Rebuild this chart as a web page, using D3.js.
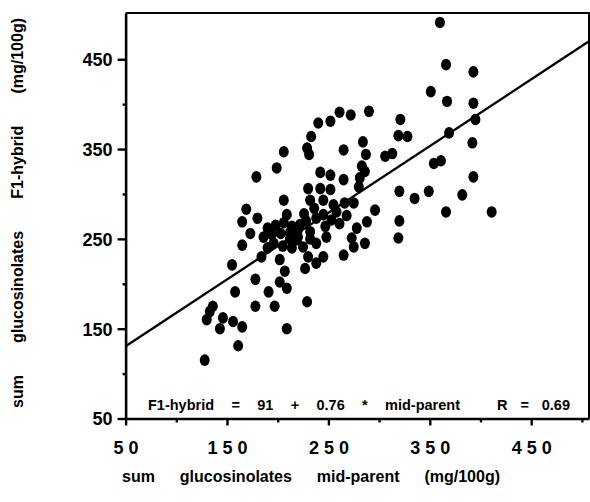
<!DOCTYPE html>
<html><head><meta charset="utf-8">
<script src="https://cdn.jsdelivr.net/npm/d3@7"></script>
<style>
body{margin:0;background:#fff}
svg{display:block}
text{font-family:"Liberation Sans",Arial,Helvetica,sans-serif;font-weight:bold;fill:#000}
</style>
</head><body>
<svg id="c" width="590" height="502"></svg>
<script>
// ---- data ----
const midParent = [360,366,393,351,367,393,321,395,319,328,369,392,306,313,354,361,393,320,335,349,382,366,411,320,319,
  290,272,261,252,240,233,229,231,265,284,287,283,286,242,252,265,281,280,230,242,252,232,245,266,275,255,296,245,238,253,288,261,247,278,220,212,232,248,273,219,238,275,286,225,265,245,230,238,
  206,199,179,206,169,165,180,209,173,165,155,184,202,207,227,178,202,209,158,191,136,178,197,229,130,146,156,165,143,133,209,161,128,
  190,198,206,214,222,186,194,203,212,220,196,205,214,190,228,232,226,236,258,268];
const f1Hybrid = [491,444,436,414,403,401,383,383,365,364,368,357,342,345,334,337,319,303,295,303,299,280,280,270,251,
  392,388,391,381,379,364,351,344,349,358,344,331,325,324,321,316,318,308,306,306,305,293,293,290,290,288,282,277,273,271,269,267,264,262,260,257,258,252,251,249,245,241,245,241,232,230,230,223,
  347,329,319,293,283,269,273,277,256,243,221,230,227,214,217,205,202,195,191,191,175,175,175,180,160,162,158,152,150,169,150,131,115,
  262,265,268,264,266,252,255,256,250,252,245,242,240,240,270,250,278,284,280,276];
const xTicksMajor = [50,150,250,350,450];
const xTicksMinor = [100,200,300,400,500];
const yTicksMajor = [50,150,250,350,450];
const yTicksMinor = [100,200,300,400];
const regLineX = [50,507];
const regLineY = [130.5,470];
const eqLabel = "F1-hybrid = 91 + 0.76 * mid-parent";
const rLabel = "R = 0.69";
const xTitle = "sum glucosinolates mid-parent (mg/100g)";
const yTitle = "sum glucosinolates F1-hybrid (mg/100g)";

// ---- chart ----
const svg = d3.select("#c");
svg.append("rect").attr("width",590).attr("height",502).attr("fill","#fff");
const x = d3.scaleLinear().domain([50,507]).range([125.6,589]);
const y = d3.scaleLinear().domain([50,501.5]).range([418.5,13]);

// frame (top & right)
svg.append("path")
  .attr("d", `M${x(50)},${y(501.5)}H${x(507)}V${y(50)}`)
  .attr("fill","none").attr("stroke","#000").attr("stroke-width",2);

const spaced = d => String(d).split("").join(" ");

// x axis
const gx = svg.append("g").attr("transform",`translate(0,${y(50)})`);
gx.call(d3.axisBottom(x).tickValues(xTicksMajor).tickSize(7).tickSizeOuter(0).tickFormat(spaced));
const gxm = svg.append("g").attr("transform",`translate(0,${y(50)})`);
gxm.call(d3.axisBottom(x).tickValues(xTicksMinor).tickSize(4).tickSizeOuter(0).tickFormat(""));
gxm.select(".domain").remove();
// y axis
const gy = svg.append("g").attr("transform",`translate(${x(50)},0)`);
gy.call(d3.axisLeft(y).tickValues(yTicksMajor).tickSize(8).tickSizeOuter(0));
const gym = svg.append("g").attr("transform",`translate(${x(50)},0)`);
gym.call(d3.axisLeft(y).tickValues(yTicksMinor).tickSize(3).tickSizeOuter(0).tickFormat(""));
gym.select(".domain").remove();

svg.selectAll(".domain").attr("stroke","#000").attr("stroke-width",2.6);
svg.selectAll(".tick line").attr("stroke","#000").attr("stroke-width",2.4);
gx.selectAll(".tick text").attr("y",null).attr("dy",null).attr("transform","translate(0,35)")
  .style("font-size","18px").style("font-family",'"Liberation Sans",Arial,sans-serif').style("font-weight","bold").attr("fill","#000");
gy.selectAll(".tick text").attr("x",-13).attr("dy","0.36em")
  .style("font-size","18px").style("font-family",'"Liberation Sans",Arial,sans-serif').style("font-weight","bold").attr("fill","#000");

// regression line
svg.append("line")
  .attr("x1",x(regLineX[0])).attr("y1",y(regLineY[0]))
  .attr("x2",x(regLineX[1])).attr("y2",y(regLineY[1]))
  .attr("stroke","#000").attr("stroke-width",2.3);

// points
svg.append("g").selectAll("ellipse").data(midParent.map((d,i)=>[d,f1Hybrid[i]]))
  .join("ellipse")
  .attr("cx",d=>x(d[0])).attr("cy",d=>y(d[1]))
  .attr("rx",5).attr("ry",5.8).attr("fill","#000");

function fitWords(sel, target){
  const n = sel.text().split(" ").length-1;
  const w = sel.node().getComputedTextLength();
  sel.style("word-spacing", Math.max(0,(target-w)/n)+"px");
}

// equation text
const eq = svg.append("text").attr("x",148).attr("y",410).style("font-size","14.5px").text(eqLabel);
fitWords(eq, 312);
const rt = svg.append("text").attr("x",497).attr("y",410).style("font-size","14.5px").text(rLabel);
fitWords(rt, 73);

// axis titles
const xt = svg.append("text").attr("x",122).attr("y",482).style("font-size","16px").text(xTitle);
fitWords(xt, 378);
const yt = svg.append("text").attr("transform","translate(23,408) rotate(-90)").style("font-size","16px").text(yTitle);
fitWords(yt, 390);
</script>
</body></html>
